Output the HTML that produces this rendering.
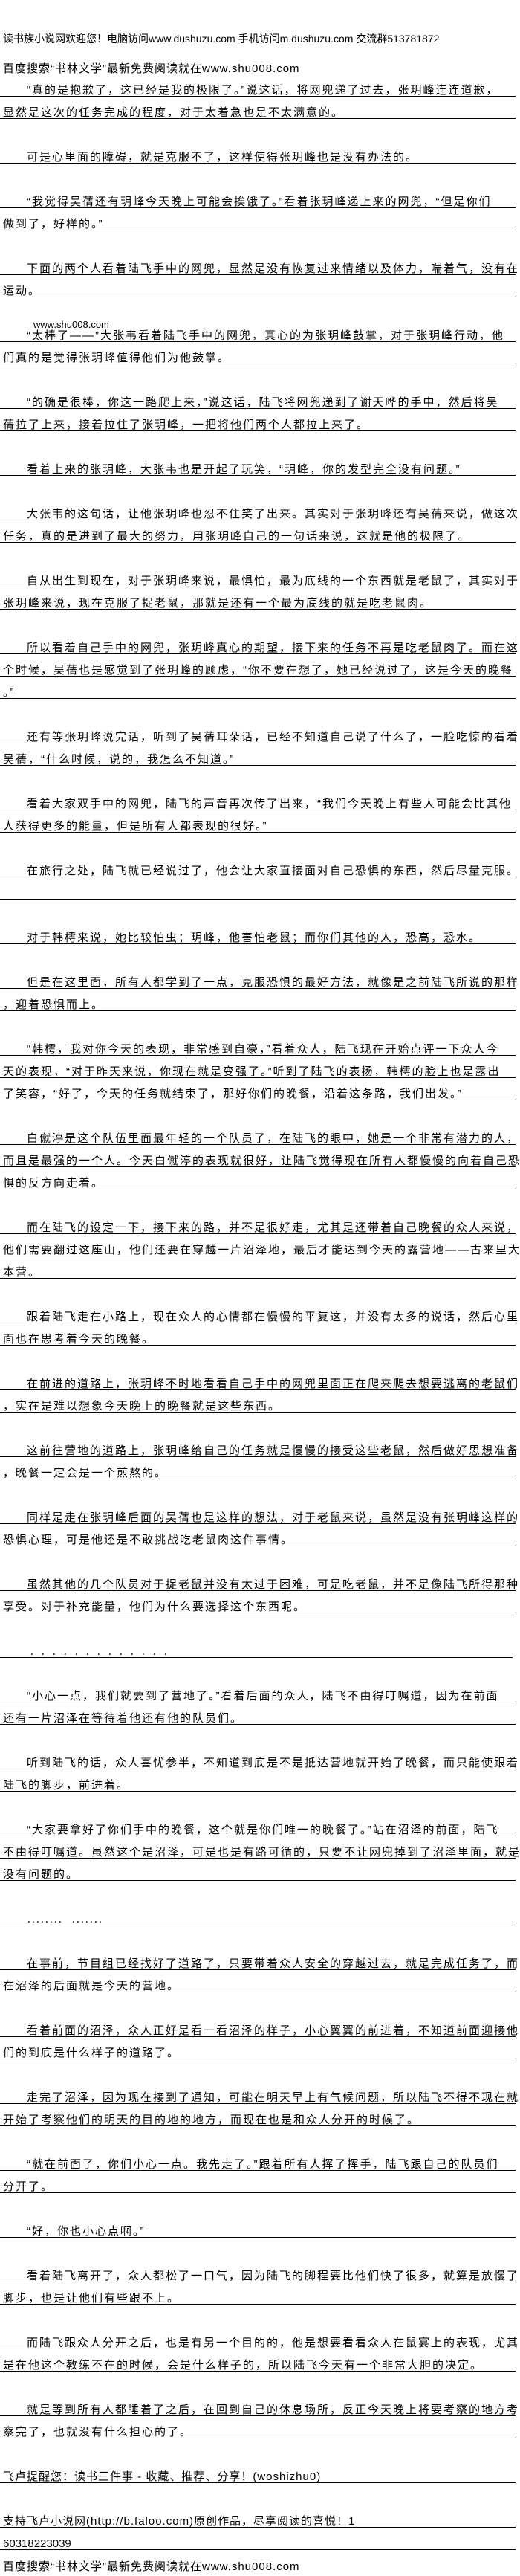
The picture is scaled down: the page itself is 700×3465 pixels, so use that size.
<!DOCTYPE html>
<html><head><meta charset="utf-8"><style>
html,body{margin:0;padding:0;background:#fff;}
body{width:700px;height:3465px;position:relative;overflow:hidden;font-family:"Liberation Sans","Noto Sans CJK SC",sans-serif;color:#000;}
.l{position:absolute;left:0;width:690px;height:29px;border-bottom:1px solid #000;font-size:15px;letter-spacing:2px;line-height:44px;white-space:nowrap;padding-left:4px;box-sizing:content-box;}
.i{padding-left:36px;width:658px;}
.n{border-bottom:none;}
.h{position:absolute;left:4px;font-size:14px;white-space:nowrap;line-height:18px;}
</style></head><body>
<div class="h" style="top:43px">读书族小说网欢迎您！电脑访问www.dushuzu.com 手机访问m.dushuzu.com 交流群513781872</div>
<div class="h" style="top:84px;font-size:15px;letter-spacing:1px">百度搜索“书林文学”最新免费阅读就在www.shu008.com</div>

<div class="l i" style="top:100px">“真的是抱歉了，这已经是我的极限了。”说这话，将网兜递了过去，张玥峰连连道歉，</div>
<div class="l" style="top:130px">显然是这次的任务完成的程度，对于太着急也是不太满意的。</div>
<div class="l i" style="top:190px">可是心里面的障碍，就是克服不了，这样使得张玥峰也是没有办法的。</div>
<div class="l i" style="top:250px">“我觉得吴蒨还有玥峰今天晚上可能会挨饿了。”看着张玥峰递上来的网兜，“但是你们</div>
<div class="l" style="top:280px">做到了，好样的。”</div>
<div class="l i" style="top:340px">下面的两个人看着陆飞手中的网兜，显然是没有恢复过来情绪以及体力，喘着气，没有在</div>
<div class="l" style="top:370px">运动。</div>
<div class="h" style="top:428px;left:45px;font-size:13px">www.shu008.com</div>
<div class="l i" style="top:430px">“太棒了——”大张韦看着陆飞手中的网兜，真心的为张玥峰鼓掌，对于张玥峰行动，他</div>
<div class="l" style="top:460px">们真的是觉得张玥峰值得他们为他鼓掌。</div>
<div class="l i" style="top:520px">“的确是很棒，你这一路爬上来，”说这话，陆飞将网兜递到了谢天哗的手中，然后将吴</div>
<div class="l" style="top:550px">蒨拉了上来，接着拉住了张玥峰，一把将他们两个人都拉上来了。</div>
<div class="l i" style="top:610px">看着上来的张玥峰，大张韦也是开起了玩笑，“玥峰，你的发型完全没有问题。”</div>
<div class="l i" style="top:670px">大张韦的这句话，让他张玥峰也忍不住笑了出来。其实对于张玥峰还有吴蒨来说，做这次</div>
<div class="l" style="top:700px">任务，真的是进到了最大的努力，用张玥峰自己的一句话来说，这就是他的极限了。</div>
<div class="l i" style="top:760px">自从出生到现在，对于张玥峰来说，最惧怕，最为底线的一个东西就是老鼠了，其实对于</div>
<div class="l" style="top:790px">张玥峰来说，现在克服了捉老鼠，那就是还有一个最为底线的就是吃老鼠肉。</div>
<div class="l i" style="top:850px">所以看着自己手中的网兜，张玥峰真心的期望，接下来的任务不再是吃老鼠肉了。而在这</div>
<div class="l" style="top:880px">个时候，吴蒨也是感觉到了张玥峰的顾虑，“你不要在想了，她已经说过了，这是今天的晚餐</div>
<div class="l" style="top:910px">。”</div>
<div class="l i" style="top:970px">还有等张玥峰说完话，听到了吴蒨耳朵话，已经不知道自己说了什么了，一脸吃惊的看着</div>
<div class="l" style="top:1000px">吴蒨，“什么时候，说的，我怎么不知道。”</div>
<div class="l i" style="top:1060px">看着大家双手中的网兜，陆飞的声音再次传了出来，“我们今天晚上有些人可能会比其他</div>
<div class="l" style="top:1090px">人获得更多的能量，但是所有人都表现的很好。”</div>
<div class="l i" style="top:1150px">在旅行之处，陆飞就已经说过了，他会让大家直接面对自己恐惧的东西，然后尽量克服。</div>
<div class="l" style="top:1180px"></div>
<div class="l i" style="top:1240px">对于韩樗来说，她比较怕虫；玥峰，他害怕老鼠；而你们其他的人，恐高，恐水。</div>
<div class="l i" style="top:1300px">但是在这里面，所有人都学到了一点，克服恐惧的最好方法，就像是之前陆飞所说的那样</div>
<div class="l" style="top:1330px">，迎着恐惧而上。</div>
<div class="l i" style="top:1390px">“韩樗，我对你今天的表现，非常感到自豪，”看着众人，陆飞现在开始点评一下众人今</div>
<div class="l" style="top:1420px">天的表现，“对于昨天来说，你现在就是变强了。”听到了陆飞的表扬，韩樗的脸上也是露出</div>
<div class="l" style="top:1450px">了笑容，“好了，今天的任务就结束了，那好你们的晚餐，沿着这条路，我们出发。”</div>
<div class="l i" style="top:1510px">白僦渟是这个队伍里面最年轻的一个队员了，在陆飞的眼中，她是一个非常有潜力的人，</div>
<div class="l" style="top:1540px">而且是最强的一个人。今天白僦渟的表现就很好，让陆飞觉得现在所有人都慢慢的向着自己恐</div>
<div class="l" style="top:1570px">惧的反方向走着。</div>
<div class="l i" style="top:1630px">而在陆飞的设定一下，接下来的路，并不是很好走，尤其是还带着自己晚餐的众人来说，</div>
<div class="l" style="top:1660px">他们需要翻过这座山，他们还要在穿越一片沼泽地，最后才能达到今天的露营地——古来里大</div>
<div class="l" style="top:1690px">本营。</div>
<div class="l i" style="top:1750px">跟着陆飞走在小路上，现在众人的心情都在慢慢的平复这，并没有太多的说话，然后心里</div>
<div class="l" style="top:1780px">面也在思考着今天的晚餐。</div>
<div class="l i" style="top:1840px">在前进的道路上，张玥峰不时地看看自己手中的网兜里面正在爬来爬去想要逃离的老鼠们</div>
<div class="l" style="top:1870px">，实在是难以想象今天晚上的晚餐就是这些东西。</div>
<div class="l i" style="top:1930px">这前往营地的道路上，张玥峰给自己的任务就是慢慢的接受这些老鼠，然后做好思想准备</div>
<div class="l" style="top:1960px">，晚餐一定会是一个煎熬的。</div>
<div class="l i" style="top:2020px">同样是走在张玥峰后面的吴蒨也是这样的想法，对于老鼠来说，虽然是没有张玥峰这样的</div>
<div class="l" style="top:2050px">恐惧心理，可是他还是不敢挑战吃老鼠肉这件事情。</div>
<div class="l i" style="top:2110px">虽然其他的几个队员对于捉老鼠并没有太过于困难，可是吃老鼠，并不是像陆飞所得那种</div>
<div class="l" style="top:2140px">享受。对于补充能量，他们为什么要选择这个东西呢。</div>
<div class="l" style="top:2200px;padding-left:40px;width:650px;letter-spacing:9px;font-size:12px">．．．．．．．．．．．．．</div>
<div class="l i" style="top:2260px">“小心一点，我们就要到了营地了。”看着后面的众人，陆飞不由得叮嘱道，因为在前面</div>
<div class="l" style="top:2290px">还有一片沼泽在等待着他还有他的队员们。</div>
<div class="l i" style="top:2350px">听到陆飞的话，众人喜忧参半，不知道到底是不是抵达营地就开始了晚餐，而只能使跟着</div>
<div class="l" style="top:2380px">陆飞的脚步，前进着。</div>
<div class="l i" style="top:2440px">“大家要拿好了你们手中的晚餐，这个就是你们唯一的晚餐了。”站在沼泽的前面，陆飞</div>
<div class="l" style="top:2470px">不由得叮嘱道。虽然这个是沼泽，可是也是有路可循的，只要不让网兜掉到了沼泽里面，就是</div>
<div class="l" style="top:2500px">没有问题的。</div>
<div class="l" style="top:2560px;padding-left:36px;width:654px;letter-spacing:0;font-size:12px">．．．．．．．．　．．．．．．．</div>
<div class="l i" style="top:2620px">在事前，节目组已经找好了道路了，只要带着众人安全的穿越过去，就是完成任务了，而</div>
<div class="l" style="top:2650px">在沼泽的后面就是今天的营地。</div>
<div class="l i" style="top:2710px">看着前面的沼泽，众人正好是看一看沼泽的样子，小心翼翼的前进着，不知道前面迎接他</div>
<div class="l" style="top:2740px">们的到底是什么样子的道路了。</div>
<div class="l i" style="top:2800px">走完了沼泽，因为现在接到了通知，可能在明天早上有气候问题，所以陆飞不得不现在就</div>
<div class="l" style="top:2830px">开始了考察他们的明天的目的地的地方，而现在也是和众人分开的时候了。</div>
<div class="l i" style="top:2890px">“就在前面了，你们小心一点。我先走了。”跟着所有人挥了挥手，陆飞跟自己的队员们</div>
<div class="l" style="top:2920px">分开了。</div>
<div class="l i" style="top:2980px">“好，你也小心点啊。”</div>
<div class="l i" style="top:3040px">看着陆飞离开了，众人都松了一口气，因为陆飞的脚程要比他们快了很多，就算是放慢了</div>
<div class="l" style="top:3070px">脚步，也是让他们有些跟不上。</div>
<div class="l i" style="top:3130px">而陆飞跟众人分开之后，也是有另一个目的的，他是想要看看众人在鼠宴上的表现，尤其</div>
<div class="l" style="top:3160px">是在他这个教练不在的时候，会是什么样子的，所以陆飞今天有一个非常大胆的决定。</div>
<div class="l i" style="top:3220px">就是等到所有人都睡着了之后，在回到自己的休息场所，反正今天晚上将要考察的地方考</div>
<div class="l" style="top:3250px">察完了，也就没有什么担心的了。</div>
<div class="l" style="top:3310px;letter-spacing:1px">飞卢提醒您：读书三件事 - 收藏、推荐、分享！(woshizhu0)</div>
<div class="l" style="top:3370px;letter-spacing:1px">支持飞卢小说网(http://b.faloo.com)原创作品，尽享阅读的喜悦！1</div>
<div class="l" style="top:3400px;letter-spacing:0">60318223039</div>
<div class="h" style="top:3444px;font-size:15px;letter-spacing:1px">百度搜索“书林文学”最新免费阅读就在www.shu008.com</div>
</body></html>
